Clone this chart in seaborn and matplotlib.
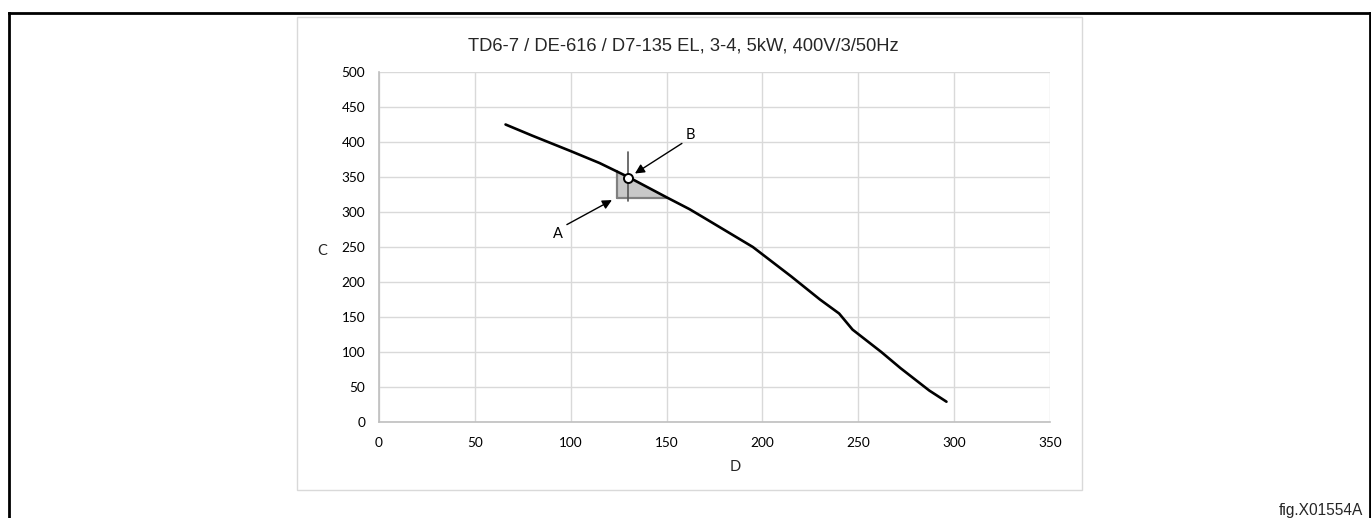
import numpy as np
import pandas as pd
import matplotlib
matplotlib.use("Agg")
import matplotlib.pyplot as plt
from matplotlib.patches import Rectangle
from matplotlib.lines import Line2D
import seaborn as sns

# ---- data ----
flow_d = [66, 80, 100, 115, 130, 150, 162, 170, 195, 215, 230, 240, 247, 262, 272, 287, 296]
press_c = [425, 409, 387, 370, 350, 321, 304, 291, 250, 208, 175, 155, 132, 100, 77, 45, 29]
x_ticks = [0, 50, 100, 150, 200, 250, 300, 350]
y_ticks = [0, 50, 100, 150, 200, 250, 300, 350, 400, 450, 500]
title_text = "TD6-7 / DE-616 / D7-135 EL, 3-4, 5kW, 400V/3/50Hz"
x_label = "D"
y_label = "C"
fig_label = "fig.X01554A"

# operating point B and tolerance area A
point_b = (130, 349)
b_vline = (316, 385)
area_x = (124, 150)
area_floor = 320
label_a = "A"
label_b = "B"
arrow_a_tip, arrow_a_tail = (121.5, 317), (98, 282)
arrow_b_tip, arrow_b_tail = (133.5, 355), (158, 398)

df = pd.DataFrame({"D": flow_d, "C": press_c})

sns.set_theme(style="white")
plt.rcParams["font.family"] = ["Lato", "DejaVu Sans"]

W, H = 1371, 518
fig = plt.figure(figsize=(W / 100, H / 100), dpi=100)

def fx(px):
    return px / W

def fy(py):
    return 1 - py / H

# outer black frame (open at bottom)
for (x0, y0, x1, y1) in [(8.5, 12.5, 8.5, 530), (8.5, 12.5, 1369.5, 12.5), (1369.5, 12.5, 1369.5, 530)]:
    fig.add_artist(Line2D([fx(x0), fx(x1)], [fy(y0), fy(y1)], color="black", lw=2.0,
                          transform=fig.transFigure, solid_capstyle="projecting"))

# chart box
fig.add_artist(Rectangle((fx(297), fy(490)), fx(1082) - fx(297), fy(17) - fy(490),
                         transform=fig.transFigure, fill=False, edgecolor="#d9d9d9", lw=1.0))

ax = fig.add_axes([fx(379), fy(422), fx(1050) - fx(379), fy(72) - fy(422)])
ax.set_facecolor("white")

# tolerance area
xs = np.linspace(area_x[0], area_x[1], 50)
ys = np.interp(xs, flow_d, press_c)
ax.fill_between(xs, area_floor, ys, color="#c8c8c8", lw=0, zorder=2)
ax.plot([area_x[0], area_x[0]], [area_floor, ys[0]], color="#808080", lw=1.6, zorder=2.5)
ax.plot([area_x[0], area_x[1]], [area_floor, area_floor], color="#808080", lw=1.6, zorder=2.5)

sns.lineplot(data=df, x="D", y="C", sort=False, color="black", lw=1.9, ax=ax, zorder=3)

ax.plot([point_b[0], point_b[0]], list(b_vline), color="#555555", lw=1.2, zorder=3.5)
ax.plot([point_b[0]], [point_b[1]], marker="o", ms=6.5, mfc="white", mec="black", mew=1.4, zorder=4)

ax.annotate("", xy=arrow_a_tip, xytext=arrow_a_tail,
            arrowprops=dict(arrowstyle="-|>", color="black", lw=1.0, mutation_scale=14, shrinkA=0, shrinkB=0))
ax.annotate("", xy=arrow_b_tip, xytext=arrow_b_tail,
            arrowprops=dict(arrowstyle="-|>", color="black", lw=1.0, mutation_scale=14, shrinkA=0, shrinkB=0))
ax.text(arrow_a_tail[0] - 2, arrow_a_tail[1] - 3, label_a, ha="right", va="top", fontsize=10.5, color="black")
ax.text(arrow_b_tail[0] + 2, arrow_b_tail[1] + 2, label_b, ha="left", va="bottom", fontsize=10.5, color="black")

ax.set_xlim(0, 350)
ax.set_ylim(0, 500)
ax.set_xticks(x_ticks)
ax.set_yticks(y_ticks)
ax.grid(True, color="#d9d9d9", lw=1.0)
ax.set_axisbelow(True)
for s in ["top", "right"]:
    ax.spines[s].set_visible(False)
for s in ["left", "bottom"]:
    ax.spines[s].set_visible(True)
    ax.spines[s].set_color("#bfbfbf")
    ax.spines[s].set_linewidth(1.2)
    ax.spines[s].set_zorder(1)
ax.tick_params(axis="both", length=0, labelsize=9.8, colors="black")
ax.tick_params(axis="y", pad=10)
ax.tick_params(axis="x", pad=11)
ax.set_xlabel("")
ax.set_ylabel("")

fig.text(fx(322), fy(251), y_label, ha="center", va="center", fontsize=10.5)
fig.text(fx(735), fy(467), x_label, ha="center", va="center", fontsize=10.5)
fig.text(fx(683), fy(46), title_text, ha="center", va="center", fontsize=13.2,
         family=["Liberation Sans", "DejaVu Sans"])
fig.text(fx(1363), fy(511), fig_label, ha="right", va="center", fontsize=11.2,
         family=["Liberation Sans", "DejaVu Sans"])

fig.savefig("out.png", dpi=100, facecolor="white")
